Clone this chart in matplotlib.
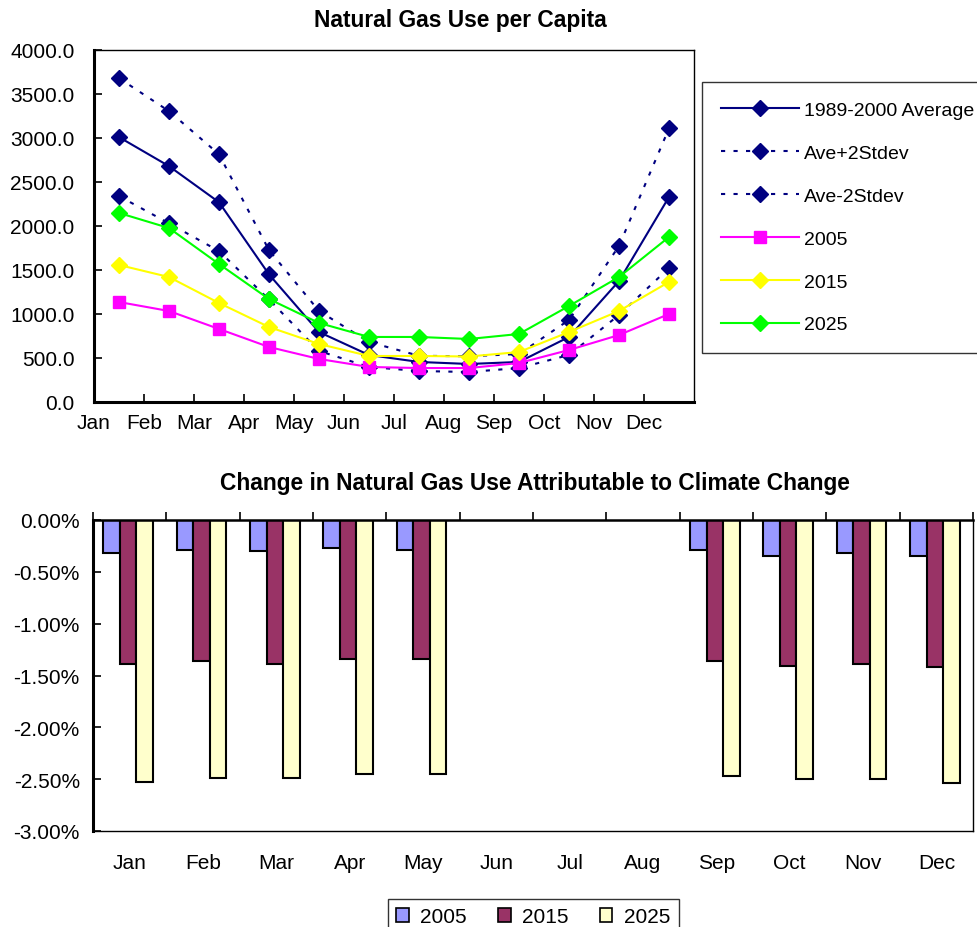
import numpy as np
import matplotlib
matplotlib.use("Agg")
import matplotlib.pyplot as plt
from matplotlib.ticker import FuncFormatter

plt.rcParams["font.family"] = ["Liberation Sans", "DejaVu Sans"]

months = ["Jan", "Feb", "Mar", "Apr", "May", "Jun",
          "Jul", "Aug", "Sep", "Oct", "Nov", "Dec"]

# per capita use
avg_89_00 = [3010, 2680, 2270, 1450, 795, 534, 455, 432, 455, 739, 1375, 2330]
ave_plus = [3680, 3305, 2815, 1725, 1034, 682, 525, 520, 545, 932, 1773, 3110]
ave_minus = [2340, 2030, 1715, 1165, 580, 398, 352, 341, 386, 534, 989, 1523]
use_2005 = [1136, 1034, 830, 625, 489, 398, 386, 386, 443, 591, 761, 1000]
use_2015 = [1557, 1420, 1125, 852, 659, 523, 523, 517, 568, 795, 1034, 1364]
use_2025 = [2148, 1977, 1568, 1170, 898, 739, 739, 716, 773, 1091, 1420, 1875]

# change attributable to climate change (%)
chg_2005 = [-0.32, -0.29, -0.30, -0.27, -0.29, np.nan, np.nan, np.nan,
            -0.29, -0.35, -0.32, -0.35]
chg_2015 = [-1.39, -1.36, -1.39, -1.34, -1.34, np.nan, np.nan, np.nan,
            -1.36, -1.41, -1.39, -1.42]
chg_2025 = [-2.53, -2.49, -2.49, -2.45, -2.45, np.nan, np.nan, np.nan,
            -2.47, -2.50, -2.50, -2.54]

W, H = 978, 928
fig = plt.figure(figsize=(W / 100, H / 100), dpi=100)

# ---- top chart ----
ax1 = fig.add_axes([94 / W, 1 - 403 / H, 600 / W, 352 / H])
x = np.arange(12) + 0.5
navy = "#000080"
dots = (0, (2, 4))
ax1.plot(x, avg_89_00, color=navy, lw=1.5, marker="D", ms=8.5, label="1989-2000 Average")
ax1.plot(x, ave_plus, color=navy, lw=1.5, ls=dots, marker="D", ms=8.5, label="Ave+2Stdev")
ax1.plot(x, ave_minus, color=navy, lw=1.5, ls=dots, marker="D", ms=8.5, label="Ave-2Stdev")
ax1.plot(x, use_2005, color="#FF00FF", lw=1.5, marker="s", ms=9, label="2005")
ax1.plot(x, use_2015, color="#FFFF00", lw=1.5, marker="D", ms=8.5, label="2015")
ax1.plot(x, use_2025, color="#00FF00", lw=1.5, marker="D", ms=8.5, label="2025")

ax1.set_xlim(0, 12)
ax1.set_ylim(0, 4000)
ax1.set_yticks(np.arange(0, 4001, 500))
ax1.yaxis.set_major_formatter(FuncFormatter(lambda v, p: f"{v:.1f}"))
ax1.set_xticks(np.arange(12))
ax1.set_xticklabels(months)
ax1.tick_params(direction="in", length=6, width=1.2, labelsize=15)
ax1.tick_params(axis="x", pad=8)
ax1.tick_params(axis="y", pad=14)
for s in ["left", "bottom"]:
    ax1.spines[s].set_linewidth(2.2)
for s in ["top", "right"]:
    ax1.spines[s].set_linewidth(1.0)

leg1 = ax1.legend(loc="upper left", bbox_to_anchor=(702 / W, 1 - 83 / H),
                  bbox_transform=fig.transFigure, fontsize=14, frameon=True,
                  fancybox=False, edgecolor="black", handlelength=4,
                  labelspacing=1.3, borderpad=1.0, borderaxespad=0,
                  handletextpad=0.25)
leg1.get_frame().set_linewidth(1.0)

fig.text(460 / W, 1 - 20 / H, "Natural Gas Use per Capita", ha="center",
         va="center", fontsize=16.4, fontweight="bold")

# ---- bottom chart ----
ax2 = fig.add_axes([93 / W, 1 - 832 / H, 880 / W, 311 / H])
bw = 0.225
xc = np.arange(12) + 0.48
bar_kw = dict(width=bw, edgecolor="black", linewidth=1.5)
ax2.bar(xc - bw, chg_2005, color="#9999FF", label="2005", **bar_kw)
ax2.bar(xc, chg_2015, color="#993366", label="2015", **bar_kw)
ax2.bar(xc + bw, chg_2025, color="#FFFFCC", label="2025", **bar_kw)

ax2.set_xlim(0, 12)
ax2.set_ylim(-3.0, 0.0)
ax2.set_yticks(np.arange(-3.0, 0.01, 0.5))
ax2.yaxis.set_major_formatter(FuncFormatter(lambda v, p: f"{v:.2f}%"))
ax2.tick_params(axis="y", direction="in", length=6, width=1.2, labelsize=15, pad=9.5)

ax2.set_xticks(np.arange(12) + 0.5)
ax2.set_xticklabels(months)
ax2.tick_params(axis="x", which="major", length=0, labelsize=15, pad=16)
ax2.set_xticks(np.arange(13), minor=True)
ax2.tick_params(axis="x", which="minor", top=True, bottom=False,
                direction="out", length=6, width=1.2)
ax2.spines["left"].set_linewidth(2.2)
ax2.spines["top"].set_linewidth(1.8)
ax2.spines["right"].set_linewidth(1.0)
ax2.spines["bottom"].set_linewidth(1.0)

leg2 = ax2.legend(loc="upper left", bbox_to_anchor=(388 / W, 1 - 900 / H),
                  bbox_transform=fig.transFigure, ncol=3, fontsize=15,
                  frameon=True, fancybox=False, edgecolor="black",
                  handlelength=0.6, handleheight=0.6, handletextpad=0.55,
                  columnspacing=1.5, borderpad=0.4, borderaxespad=0)
leg2.get_frame().set_linewidth(1.0)
for p in leg2.get_patches():
    p.set_linewidth(1.2)

fig.text(535 / W, 1 - 484 / H,
         "Change in Natural Gas Use Attributable to Climate Change",
         ha="center", va="center", fontsize=16.4, fontweight="bold")

fig.savefig("out.png", dpi=100)
